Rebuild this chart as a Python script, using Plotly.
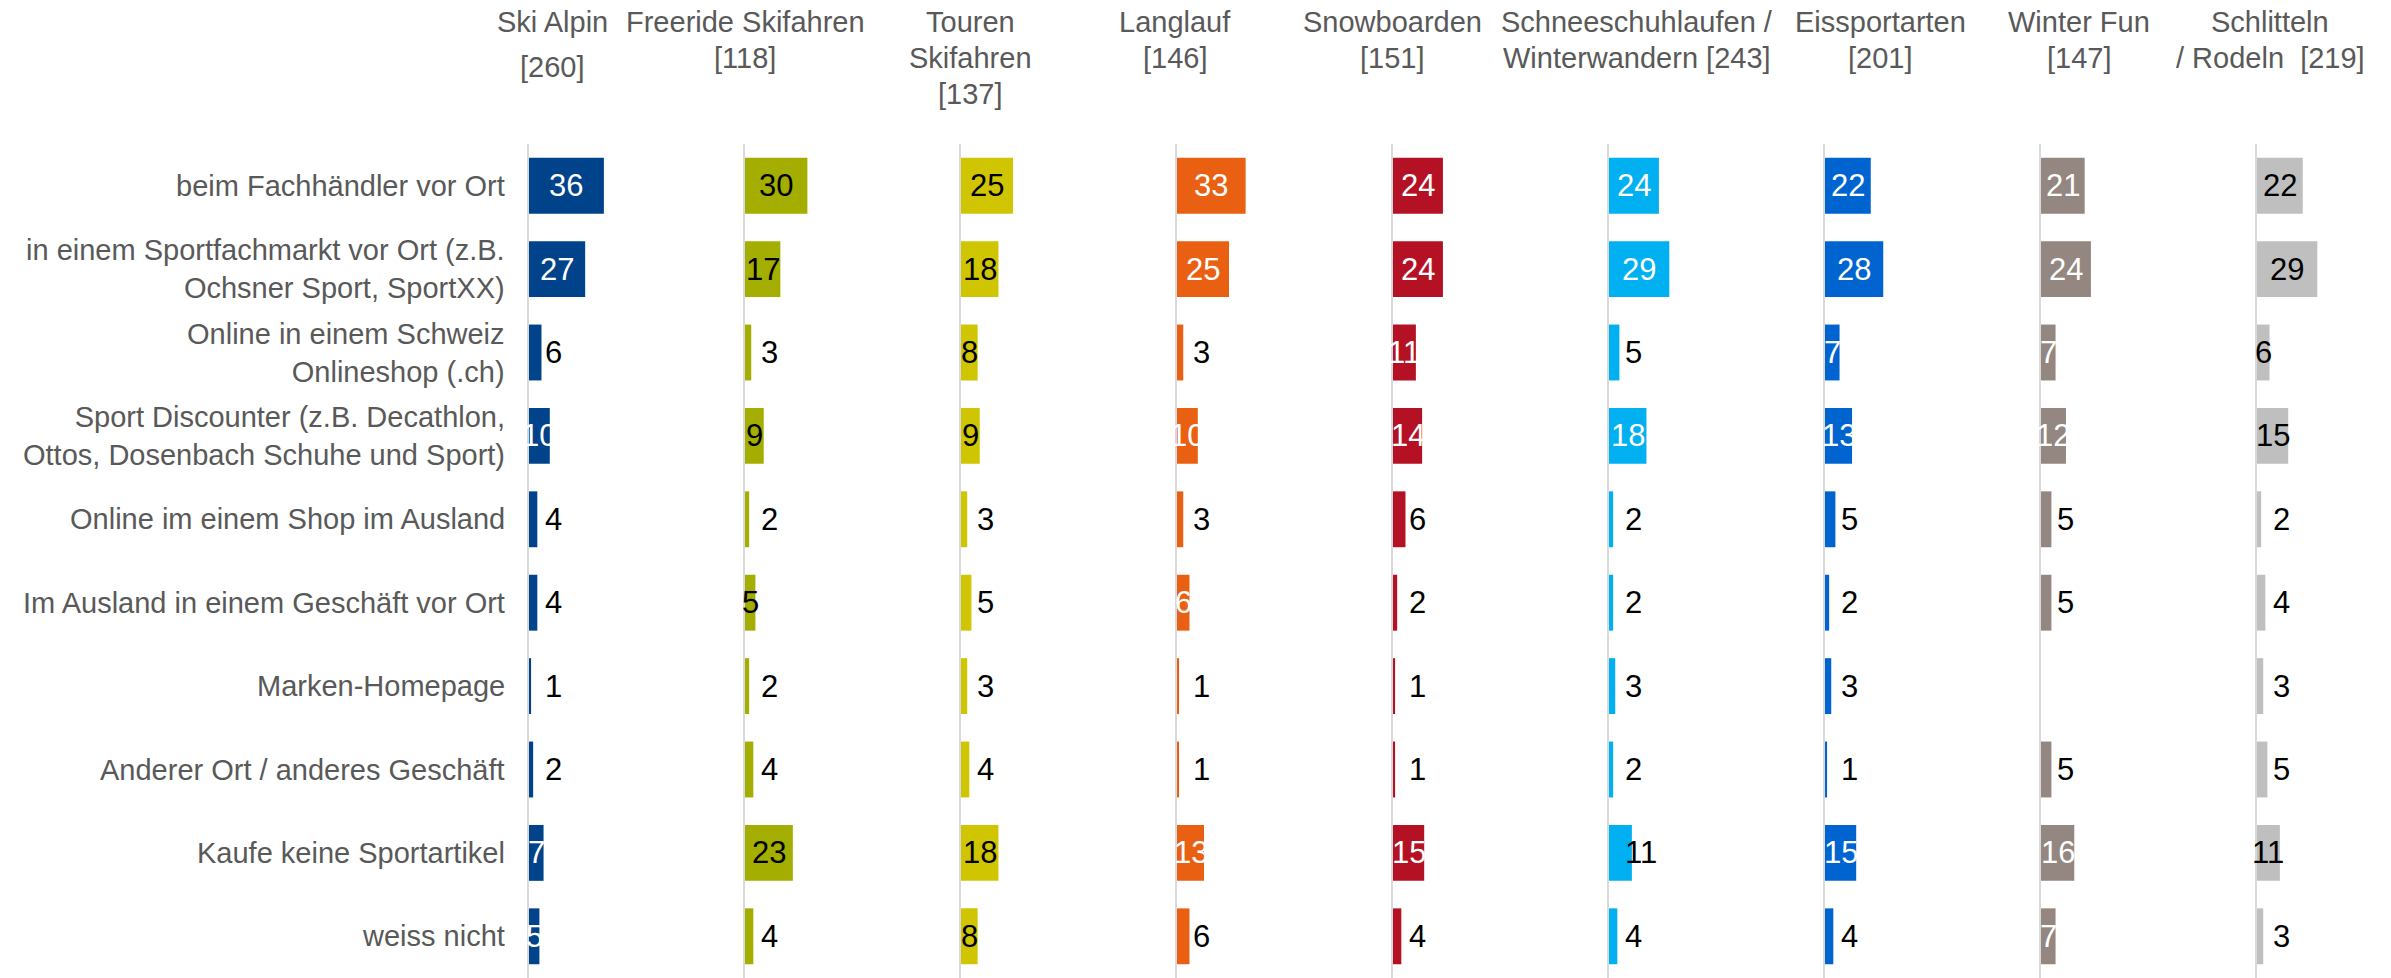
import plotly.graph_objects as go

# ---------------- data ----------------
categories = [
    "beim Fachhändler vor Ort",
    "in einem Sportfachmarkt vor Ort (z.B.<br>Ochsner Sport, SportXX)",
    "Online in einem Schweiz<br>Onlineshop (.ch)",
    "Sport Discounter (z.B. Decathlon,<br>Ottos, Dosenbach Schuhe und Sport)",
    "Online im einem Shop im Ausland",
    "Im Ausland in einem Geschäft vor Ort",
    "Marken-Homepage",
    "Anderer Ort / anderes Geschäft",
    "Kaufe keine Sportartikel",
    "weiss nicht",
]

panel_titles = [
    "Ski Alpin<br>[260]",
    "Freeride Skifahren<br>[118]",
    "Touren<br>Skifahren<br>[137]",
    "Langlauf<br>[146]",
    "Snowboarden<br>[151]",
    "Schneeschuhlaufen /<br>Winterwandern [243]",
    "Eissportarten<br>[201]",
    "Winter Fun<br>[147]",
    "Schlitteln<br>/ Rodeln\u00a0 [219]",
]

ski_alpin = [36, 27, 6, 10, 4, 4, 1, 2, 7, 5]
freeride = [30, 17, 3, 9, 2, 5, 2, 4, 23, 4]
touren = [25, 18, 8, 9, 3, 5, 3, 4, 18, 8]
langlauf = [33, 25, 3, 10, 3, 6, 1, 1, 13, 6]
snowboarden = [24, 24, 11, 14, 6, 2, 1, 1, 15, 4]
schneeschuh = [24, 29, 5, 18, 2, 2, 3, 2, 11, 4]
eissport = [22, 28, 7, 13, 5, 2, 3, 1, 15, 4]
winter_fun = [21, 24, 7, 12, 5, 5, None, 5, 16, 7]
schlitteln = [22, 29, 6, 15, 2, 4, 3, 5, 11, 3]

series = [ski_alpin, freeride, touren, langlauf, snowboarden,
          schneeschuh, eissport, winter_fun, schlitteln]

# ---------------- style ----------------
colors = ["#00438A", "#A3AE00", "#CFC500", "#E96012", "#B41224",
          "#00B0F0", "#0064D0", "#948680", "#BFBFBF"]
inside_font = ["white", "black", "black", "white", "white",
               "white", "white", "white", "black"]
# 1 = label placed to the right of the axis, 0 = label centred on bar
label_outside = [
    [0, 0, 1, 0, 1, 1, 1, 1, 0, 0],
    [0, 0, 1, 0, 1, 0, 1, 1, 0, 1],
    [0, 0, 0, 0, 1, 1, 1, 1, 0, 0],
    [0, 0, 1, 0, 1, 0, 1, 1, 0, 1],
    [0, 0, 0, 0, 1, 1, 1, 1, 0, 1],
    [0, 0, 1, 0, 1, 1, 1, 1, 1, 1],
    [0, 0, 0, 0, 1, 1, 1, 1, 0, 1],
    [0, 0, 0, 0, 1, 1, 1, 1, 0, 0],
    [0, 0, 0, 0, 1, 1, 1, 1, 0, 1],
]
title_centers_px = [552, 745, 970, 1175, 1392, 1637, 1881, 2079, 2270]

W, H = 2391, 978
TOP = 144
PX_PER_UNIT = 2.08
PANEL_START = 529
PANEL_STEP = 216
PANEL_W = 208
FONT = "Liberation Sans, Arial, sans-serif"
TXT_GREY = "#595959"
FS = 29
VAL_FS = 31
OUT_OFFSET_PX = 14

fig = go.Figure()
layout = {}
annotations = []

for i, vals in enumerate(series):
    xa = "x" if i == 0 else f"x{i+1}"
    ya = "y" if i == 0 else f"y{i+1}"
    x0 = PANEL_START + PANEL_STEP * i
    x1 = min(x0 + PANEL_W, W)
    rng = (x1 - x0) / PX_PER_UNIT
    fig.add_trace(go.Bar(
        x=vals, y=list(range(len(categories))), orientation="h",
        xaxis=xa, yaxis=ya, width=0.67,
        marker=dict(color=colors[i], line=dict(width=0)),
        hoverinfo="x", showlegend=False,
    ))
    layout["xaxis" if i == 0 else f"xaxis{i+1}"] = dict(
        domain=[x0 / W, x1 / W], range=[0, rng], visible=False,
        anchor=ya, fixedrange=True)
    layout["yaxis" if i == 0 else f"yaxis{i+1}"] = dict(
        domain=[0, 1], anchor=xa, range=[len(categories) - 0.5, -0.5],
        showline=True, linecolor="#D9D9D9", linewidth=2,
        showticklabels=False, ticks="", showgrid=False, zeroline=False,
        fixedrange=True)

    # value labels
    for j, v in enumerate(vals):
        if v is None:
            continue
        if label_outside[i][j]:
            annotations.append(dict(
                x=OUT_OFFSET_PX / PX_PER_UNIT, y=j, xref=xa, yref=ya,
                text=str(v), showarrow=False, xanchor="left", yanchor="middle",
                font=dict(family=FONT, size=VAL_FS, color="black")))
        else:
            annotations.append(dict(
                x=v / 2, y=j, xref=xa, yref=ya,
                text=str(v), showarrow=False, xanchor="center", yanchor="middle",
                font=dict(family=FONT, size=VAL_FS, color=inside_font[i])))

    # panel titles, one annotation per line
    lines = panel_titles[i].split("<br>")
    for k, line in enumerate(lines):
        py = 22 + 36 * k + (9 if (i == 0 and k == 1) else 0)
        annotations.append(dict(
            x=title_centers_px[i] / W, y=1 + (TOP - py) / (H - TOP),
            xref="paper", yref="paper", text=line, showarrow=False,
            xanchor="center", yanchor="middle",
            font=dict(family=FONT, size=FS, color=TXT_GREY)))

# category labels
for j, c in enumerate(categories):
    annotations.append(dict(
        x=507 / W, y=j, xref="paper", yref="y", text=c, showarrow=False,
        xanchor="right", yanchor="middle", align="right",
        font=dict(family=FONT, size=FS, color=TXT_GREY)))

fig.update_layout(
    **layout,
    width=W, height=H,
    margin=dict(l=0, r=0, t=TOP, b=0, pad=0),
    paper_bgcolor="white", plot_bgcolor="white",
    annotations=annotations,
    showlegend=False,
    bargap=0.33,
)

fig.write_html(
    "out.html",
    config={"displayModeBar": False},
    post_script="document.body.style.margin='0';document.body.style.overflow='hidden';",
)
